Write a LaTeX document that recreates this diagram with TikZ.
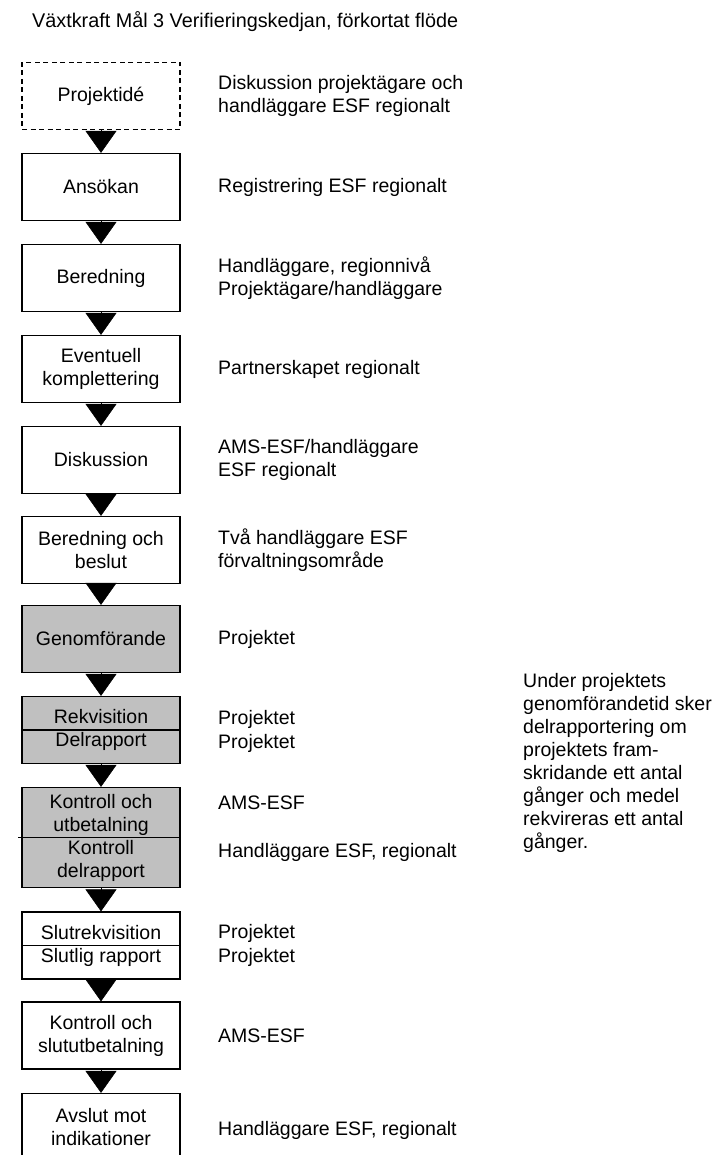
\documentclass[tikz,border=0pt]{standalone}
\usepackage{fontspec}
\setmainfont{Liberation Sans}
\usetikzlibrary{arrows.meta}
\definecolor{boxgray}{RGB}{192, 192, 192}

\begin{document}
\begin{tikzpicture}[
  x=1pt, y=-1pt,
  stage/.style={draw, line width=1.2pt, minimum width=158pt, minimum height=67pt, align=center, inner sep=2pt, font=\fontsize{19.5}{23}\selectfont},
  who/.style={anchor=west, align=left, inner sep=0pt, font=\fontsize{19.5}{23}\selectfont},
  down/.style={-{Triangle[width=31pt, length=22pt]}, line width=0.5pt}
]
  \useasboundingbox (0, 0) rectangle (716, 1155);

  \node[anchor=base west, inner sep=0pt, font=\fontsize{19.8}{23}\selectfont] (title) at (32, 28) {Växtkraft Mål 3 Verifieringskedjan, förkortat flöde};

  \node[stage, dash pattern=on 5pt off 3.5pt] (idea) at (101, 96) {Projektidé};
  \node[stage] (ansokan) at (101, 187) {Ansökan};
  \node[stage] (bered) at (101, 278) {Beredning};
  \node[stage] (kompl) at (101, 369) {Eventuell\\komplettering};
  \node[stage] (disk) at (101, 460) {Diskussion};
  \node[stage] (beslut) at (101, 550) {Beredning och\\beslut};
  \node[stage, fill=boxgray] (genomf) at (101, 639) {Genomförande};
  \node[stage, fill=boxgray] (rekv) at (101, 730) {Rekvisition\\Delrapport};
  \node[stage, fill=boxgray, minimum height=100pt] (kontr) at (101, 837.5) {Kontroll och\\utbetalning\\Kontroll\\delrapport};
  \node[stage] (slutrek) at (101, 945.5) {Slutrekvisition\\Slutlig rapport};
  \node[stage] (slututb) at (101, 1035.5) {Kontroll och\\slututbetalning};
  \node[stage] (avslut) at (101, 1127) {Avslut mot\\indikationer};

  \draw[line width=1.2pt] (rekv.west) -- (rekv.east);
  \draw[line width=1.2pt] ([xshift=-3pt]kontr.west) -- (kontr.east);
  \draw[line width=1.2pt] (slutrek.west) -- (slutrek.east);

  \foreach \a/\b in {idea/ansokan, ansokan/bered, bered/kompl, kompl/disk, disk/beslut, beslut/genomf, genomf/rekv, rekv/kontr, kontr/slutrek, slutrek/slututb, slututb/avslut}
    \draw[down] (\a) -- (\b);

  \node[who] (w-idea) at (218, 96) {Diskussion projektägare och\\handläggare ESF regionalt};
  \node[who] (w-ansokan) at (218, 187) {Registrering ESF regionalt};
  \node[who] (w-bered) at (218, 278) {Handläggare, regionnivå\\Projektägare/handläggare};
  \node[who] (w-kompl) at (218, 369) {Partnerskapet regionalt};
  \node[who] (w-disk) at (218, 460) {AMS-ESF/handläggare\\ESF regionalt};
  \node[who] (w-beslut) at (218, 550) {Två handläggare ESF\\förvaltningsområde};
  \node[who] (w-genomf) at (218, 639) {Projektet};
  \node[who] (w-rekv) at (218, 719) {Projektet};
  \node[who] (w-delr) at (218, 743) {Projektet};
  \node[who] (w-kontr) at (218, 803) {AMS-ESF};
  \node[who] (w-kdelr) at (218, 852) {Handläggare ESF, regionalt};
  \node[who] (w-slutrek) at (218, 933) {Projektet};
  \node[who] (w-slutrap) at (218, 957) {Projektet};
  \node[who] (w-slututb) at (218, 1036) {AMS-ESF};
  \node[who] (w-avslut) at (218, 1130) {Handläggare ESF, regionalt};

  \node[who, anchor=north west] (note) at (523, 673) {Under projektets\\genomförandetid sker\\delrapportering om\\projektets fram-\\skridande ett antal\\gånger och medel\\rekvireras ett antal\\gånger.};
\end{tikzpicture}
\end{document}
